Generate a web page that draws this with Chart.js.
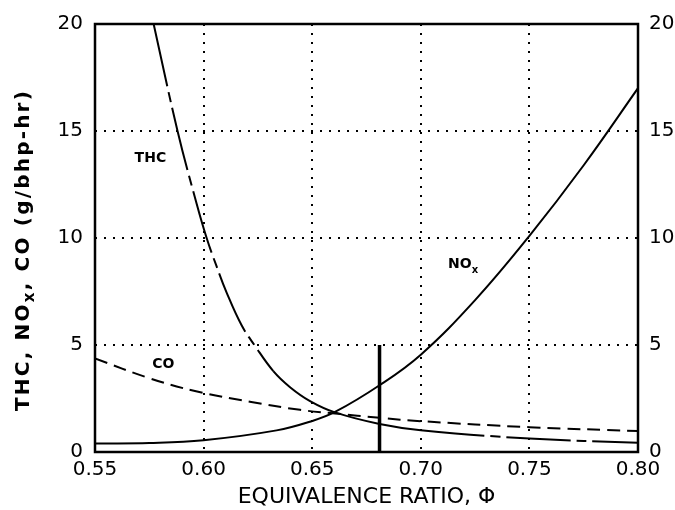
<!DOCTYPE html>
<html>
<head>
<meta charset="utf-8">
<script src="https://cdn.jsdelivr.net/npm/chart.js@4.4.1/dist/chart.umd.min.js"></script>
<style>
  html, body { margin: 0; padding: 0; background: #fff; }
  #wrap { width: 675px; height: 510px; }
</style>
</head>
<body>
<div id="wrap"><canvas id="chart"></canvas></div>
<script>
// Axis ticks
const phiTicks = [0.55, 0.60, 0.65, 0.70, 0.75, 0.80];
const emissionTicks = [0, 5, 10, 15, 20];

// THC emissions vs equivalence ratio (g/bhp-hr)
const thcPhi = [0.577, 0.588, 0.5968, 0.6014, 0.606, 0.6106, 0.6175, 0.6236, 0.6321, 0.6398, 0.649, 0.6605, 0.681, 0.70, 0.75, 0.80];
const thcVal = [20, 15, 11.6, 10.0, 8.67, 7.45, 5.92, 4.97, 3.78, 3.03, 2.38, 1.85, 1.31, 1.02, 0.63, 0.43];

// NOx emissions
const noxPhi = [0.55, 0.575, 0.60, 0.6336, 0.65, 0.6605, 0.681, 0.70, 0.725, 0.75, 0.775, 0.80];
const noxVal = [0.4, 0.42, 0.55, 1.01, 1.45, 1.87, 3.12, 4.55, 7.1, 10.1, 13.4, 17.0];

// CO emissions
const coPhi = [0.55, 0.575, 0.596, 0.6213, 0.6444, 0.6605, 0.681, 0.70, 0.75, 0.80];
const coVal = [4.37, 3.45, 2.85, 2.35, 1.97, 1.80, 1.60, 1.44, 1.16, 0.98];

// operating point marker
const markPhi = [0.681, 0.681];
const markVal = [0, 5];

// curve labels: [text, subscript, phi, value]
const curveLabels = [
    ['THC', '', 0.5755, 13.7],
    ['CO', '', 0.5815, 4.1],
    ['NO', 'x', 0.7195, 8.75]
];

const FONT = "'DejaVu Sans', sans-serif";

function toPoints(xs, ys) {
    return xs.map((x, i) => ({ x: x, y: ys[i] }));
}

// draw text with an optional subscript part, centred on (x, y)
function drawSubText(ctx, main, sub, x, y, size) {
    const subSize = Math.round(size * 0.7);
    ctx.font = `bold ${size}px ${FONT}`;
    const w1 = ctx.measureText(main).width;
    ctx.font = `bold ${subSize}px ${FONT}`;
    const w2 = sub ? ctx.measureText(sub).width : 0;
    const cx = x - (w1 + w2) / 2;
    ctx.textAlign = 'left';
    ctx.textBaseline = 'middle';
    ctx.font = `bold ${size}px ${FONT}`;
    ctx.fillText(main, cx, y);
    if (sub) {
        ctx.font = `bold ${subSize}px ${FONT}`;
        ctx.fillText(sub, cx + w1, y + size * 0.4);
    }
}

const decorations = {
    id: 'decorations',
    afterDatasetsDraw(chart) {
        const { ctx, chartArea: a, scales } = chart;
        ctx.save();
        ctx.fillStyle = '#000';

        // plot frame
        ctx.strokeStyle = '#000';
        ctx.lineWidth = 2.5;
        ctx.strokeRect(a.left, a.top, a.right - a.left, a.bottom - a.top);

        // curve labels
        curveLabels.forEach(([text, sub, phi, val]) => {
            drawSubText(ctx, text, sub, scales.x.getPixelForValue(phi), scales.y.getPixelForValue(val), 14);
        });

        // rotated y axis title
        ctx.translate(24, 250);
        ctx.rotate(-Math.PI / 2);
        ctx.letterSpacing = '2.2px';
        const size = 20;
        const parts = [['THC, NO', size, 0], ['x', 15, 6], [', CO (g/bhp-hr)', size, 0]];
        let total = 0;
        parts.forEach(p => {
            ctx.font = `bold ${p[1]}px ${FONT}`;
            total += ctx.measureText(p[0]).width;
        });
        let px = -total / 2;
        ctx.textBaseline = 'middle';
        ctx.textAlign = 'left';
        parts.forEach(p => {
            ctx.font = `bold ${p[1]}px ${FONT}`;
            ctx.fillText(p[0], px, p[2]);
            px += ctx.measureText(p[0]).width;
        });
        ctx.restore();
    }
};

const edgeTransparent = (min, max) => ctx => {
    const v = ctx.tick ? ctx.tick.value : null;
    return (v === null || Math.abs(v - min) < 1e-9 || Math.abs(v - max) < 1e-9) ? 'rgba(0,0,0,0)' : '#000';
};

const tickFont = { family: FONT, size: 20 };

new Chart(document.getElementById('chart').getContext('2d'), {
    type: 'line',
    data: {
        datasets: [
            {
                label: 'THC',
                data: toPoints(thcPhi, thcVal),
                borderColor: '#000',
                borderWidth: 2,
                borderDash: [64, 6, 10, 6],
                // the middle stretch of the THC curve is drawn unbroken
                segment: {
                    borderDash: c => (c.p0.parsed.x >= 0.632 && c.p1.parsed.x <= 0.7001) ? [] : undefined
                },
                tension: 0.4,
                pointRadius: 0
            },
            {
                label: 'NOx',
                data: toPoints(noxPhi, noxVal),
                borderColor: '#000',
                borderWidth: 2,
                tension: 0.4,
                pointRadius: 0
            },
            {
                label: 'CO',
                data: toPoints(coPhi, coVal),
                borderColor: '#000',
                borderWidth: 2,
                borderDash: [13, 7],
                tension: 0.4,
                pointRadius: 0
            },
            {
                label: 'marker',
                data: toPoints(markPhi, markVal),
                borderColor: '#000',
                borderWidth: 3.5,
                pointRadius: 0
            }
        ]
    },
    options: {
        responsive: true,
        maintainAspectRatio: false,
        animation: false,
        layout: { padding: { top: 17, left: 0, right: 0, bottom: 0 } },
        plugins: {
            legend: { display: false },
            tooltip: { enabled: false }
        },
        scales: {
            x: {
                type: 'linear',
                min: 0.55,
                max: 0.80,
                afterBuildTicks: s => { s.ticks = phiTicks.map(v => ({ value: v })); },
                afterFit: s => { s.height = 58; },
                grid: { color: edgeTransparent(0.55, 0.80), lineWidth: 2, drawTicks: false },
                border: { display: false, dash: [2, 7] },
                ticks: {
                    color: '#000',
                    font: tickFont,
                    padding: 6,
                    maxRotation: 0,
                    callback: v => v.toFixed(2)
                },
                title: {
                    display: true,
                    text: 'EQUIVALENCE RATIO, \u03A6',
                    color: '#000',
                    font: { family: FONT, size: 22 },
                    padding: { top: 0, bottom: 0 }
                }
            },
            y: {
                type: 'linear',
                position: 'left',
                min: 0,
                max: 20,
                afterBuildTicks: s => { s.ticks = emissionTicks.map(v => ({ value: v })); },
                afterFit: s => { s.width = 95; },
                grid: { color: edgeTransparent(0, 20), lineWidth: 2, drawTicks: false },
                border: { display: false, dash: [2, 7] },
                ticks: { color: '#000', font: tickFont, padding: 12 }
            },
            y2: {
                type: 'linear',
                position: 'right',
                min: 0,
                max: 20,
                afterBuildTicks: s => { s.ticks = emissionTicks.map(v => ({ value: v })); },
                afterFit: s => { s.width = 37; },
                grid: { display: false, drawTicks: false },
                border: { display: false },
                ticks: { color: '#000', font: tickFont, padding: 11 }
            }
        }
    },
    plugins: [decorations]
});
</script>
</body>
</html>
